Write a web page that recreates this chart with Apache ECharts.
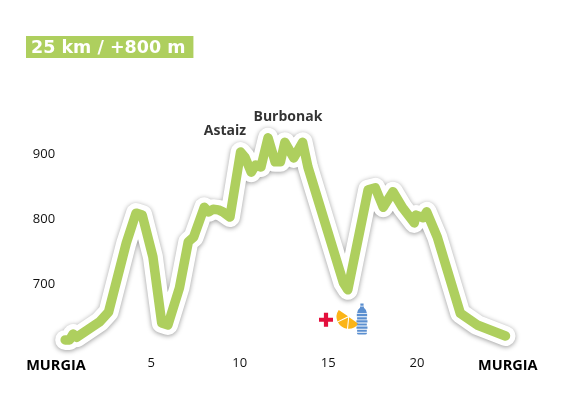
<!DOCTYPE html>
<html>
<head>
<meta charset="utf-8">
<title>Murgia 25 km</title>
<style>html,body{margin:0;padding:0;background:#fff}#chart{width:569px;height:395px}</style>
<script src="https://cdn.jsdelivr.net/npm/echarts@6/dist/echarts.min.js"></script>
</head>
<body>
<div id="chart"></div>
<script>
var kms = [0.15, 0.4, 0.6, 0.8, 2.1, 2.6, 3.6, 4.15, 4.5, 5.1, 5.6, 5.95, 6.6, 7.1, 7.4, 8, 8.25, 8.5, 8.8, 9.05, 9.45, 10.05, 10.3, 10.65, 10.9, 11.2, 11.6, 12, 12.3, 12.55, 13.05, 13.55, 13.85, 15.85, 16.1, 17.25, 17.65, 18.1, 18.65, 19.2, 19.85, 19.95, 20.35, 20.55, 21.15, 22.45, 23.4, 25];
var heights = [614, 614, 623, 618, 642, 657, 763, 809, 806, 742, 640, 637, 694, 765, 772, 818, 811, 815, 814, 811, 803, 903, 895, 872, 883, 880, 925, 888, 888, 918, 894, 918, 880, 702, 691, 845, 848, 818, 842, 817, 794, 806, 802, 811, 772, 655, 637, 620];

var xTicks = [-0.37, 5, 10, 15, 20, 25.13];
var yTicks = [700, 800, 900];
var endName = 'MURGIA';

var peakNames = ['Astaiz', 'Burbonak'];
var peakKm = [9.17, 12.72];
var peakHeight = [936, 957];

// avituallamiento
var crossAt = [14.87, 645];
var orangeAt = [15.95, 642];
var bottleAt = [16.9, 646];

var crossPath = 'path://M35 0H65V35H100V65H65V100H35V65H0V35H35Z';
var orangePath = 'path://M0 0H47L23 42A50 50 0 0 1 0 0ZM50 3L73 44A50 50 0 0 1 27 44ZM53 0H100A50 50 0 0 1 77 42Z';
var bottlePath = 'path://M40 0H60V7H40ZM38 9H62V13Q78 19 80 30H20Q22 19 38 13ZM18 33H82V41H18ZM20 44H80V51H20ZM16 54H84V61H16ZM20 64H80V71H20ZM16 74H84V81H16ZM20 84H80V91H20ZM18 94H82Q80 100 70 100H30Q20 100 18 94Z';

var green = '#aecf5e';
var line = kms.map(function (k, i) { return [k, heights[i]]; });

var myChart = echarts.init(document.getElementById('chart'));

var option = {
	animation: false,
	backgroundColor: '#fff',
	textStyle: { fontFamily: 'Open Sans' },
	title: {
		text: '25 km / +800 m',
		left: 26,
		top: 36,
		padding: [2, 8, 0, 5],
		backgroundColor: green,
		textStyle: { color: '#fff', fontSize: 17.5, fontWeight: 'bold', fontFamily: 'DejaVu Sans', lineHeight: 20 }
	},
	grid: { left: 27.06, right: 28.06, top: 89, height: 260 },
	xAxis: {
		type: 'value',
		min: -2,
		max: 27,
		splitLine: { show: false },
		axisLine: { show: false },
		axisTick: { show: false },
		axisLabel: {
			customValues: xTicks,
			margin: 8,
			color: '#111',
			fontSize: 13,
			formatter: function (v) {
				return (v < 0 || v > 25) ? '{end|' + endName + '}' : '' + v;
			},
			rich: { end: { fontSize: 14.5, fontWeight: 'bold', color: '#000', fontFamily: 'Open Sans', padding: [1, 0, 0, 0] } }
		}
	},
	yAxis: {
		type: 'value',
		min: 600,
		max: 1000,
		offset: -28,
		splitLine: { show: false },
		axisLine: { show: false },
		axisTick: { show: false },
		axisLabel: { customValues: yTicks, margin: 0, color: '#111', fontSize: 13, padding: [3, 0, 0, 0] }
	},
	series: [{
		type: 'line',
		data: line,
		symbol: 'none',
		clip: false,
		silent: true,
		lineStyle: {
			color: '#fff', width: 20, cap: 'round', join: 'round',
			shadowColor: 'rgba(0,0,0,0.4)', shadowBlur: 5, shadowOffsetY: 1
		}
	}, {
		type: 'line',
		data: line,
		symbol: 'none',
		clip: false,
		silent: true,
		lineStyle: { color: green, width: 9.5, cap: 'round', join: 'round' }
	}, {
		type: 'scatter',
		symbolSize: 0,
		data: peakNames.map(function (n, i) { return { name: n, value: [peakKm[i], peakHeight[i]] }; }),
		label: {
			show: true,
			position: 'inside',
			formatter: '{b}',
			fontSize: 14,
			fontWeight: 'bold',
			color: '#000'
		}
	}, {
		type: 'scatter',
		data: [crossAt],
		symbol: crossPath,
		symbolSize: 14,
		itemStyle: { color: '#e30f3c', opacity: 1 }
	}, {
		type: 'scatter',
		data: [orangeAt],
		symbol: orangePath,
		symbolSize: [24, 12],
		symbolRotate: -35,
		itemStyle: { color: '#fbb417', opacity: 1 }
	}, {
		type: 'scatter',
		data: [bottleAt],
		symbol: bottlePath,
		symbolSize: [11, 31],
		itemStyle: { color: '#5b8fd0', opacity: 1 }
	}]
};

myChart.setOption(option);
</script>
</body>
</html>
